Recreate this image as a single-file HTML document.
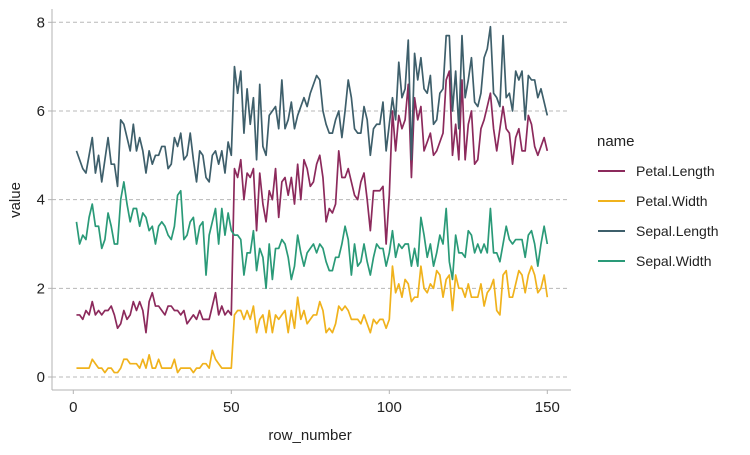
<!DOCTYPE html>
<html><head><meta charset="utf-8"><style>
body{margin:0;background:#fff;}
svg text{font-family:"Liberation Sans",Arial,sans-serif;}
</style></head><body>
<svg id="chart" width="750" height="450" xmlns="http://www.w3.org/2000/svg">
<g id="grid"></g>
<line x1="52" y1="9" x2="52" y2="390" stroke="#b3b3b3" stroke-width="1"/>
<line x1="52" y1="390" x2="571" y2="390" stroke="#b3b3b3" stroke-width="1"/>
<g id="ticks"></g>
<g id="lines"></g>
<text x="310" y="440" font-size="15" text-anchor="middle" fill="#222">row_number</text>
<text transform="translate(20,200) rotate(-90)" font-size="15" text-anchor="middle" fill="#222">value</text>
<g id="legend">
<text x="597" y="146" font-size="15" fill="#222">name</text>
</g>
</svg>
<script>
const rows = Array.from({length:150},(_,i)=>i+1);
const seriesNames = ["Petal.Length","Petal.Width","Sepal.Length","Sepal.Width"];
const seriesColors = ["#8c2a5c","#f0b21c","#3e5f6b","#2a9a78"];
const petalLength = [1.4,1.4,1.3,1.5,1.4,1.7,1.4,1.5,1.4,1.5,1.5,1.6,1.4,1.1,1.2,1.5,1.3,1.4,1.7,1.5,1.7,1.5,1.0,1.7,1.9,1.6,1.6,1.5,1.4,1.6,1.6,1.5,1.5,1.4,1.5,1.2,1.3,1.4,1.3,1.5,1.3,1.3,1.3,1.6,1.9,1.4,1.6,1.4,1.5,1.4,
4.7,4.5,4.9,4.0,4.6,4.5,4.7,3.3,4.6,3.9,3.5,4.2,4.0,4.7,3.6,4.4,4.5,4.1,4.5,3.9,4.8,4.0,4.9,4.7,4.3,4.4,4.8,5.0,4.5,3.5,3.8,3.7,3.9,5.1,4.5,4.5,4.7,4.4,4.1,4.0,4.4,4.6,4.0,3.3,4.2,4.2,4.2,4.3,3.0,4.1,
6.0,5.1,5.9,5.6,5.8,6.6,4.5,6.3,5.8,6.1,5.1,5.3,5.5,5.0,5.1,5.3,5.5,6.7,6.9,5.0,5.7,4.9,6.7,4.9,5.7,6.0,4.8,4.9,5.6,5.8,6.1,6.4,5.6,5.1,5.6,6.1,5.6,5.5,4.8,5.4,5.6,5.1,5.1,5.9,5.7,5.2,5.0,5.2,5.4,5.1];
const petalWidth = [0.2,0.2,0.2,0.2,0.2,0.4,0.3,0.2,0.2,0.1,0.2,0.2,0.1,0.1,0.2,0.4,0.4,0.3,0.3,0.3,0.2,0.4,0.2,0.5,0.2,0.2,0.4,0.2,0.2,0.2,0.2,0.4,0.1,0.2,0.2,0.2,0.2,0.1,0.2,0.2,0.3,0.3,0.2,0.6,0.4,0.3,0.2,0.2,0.2,0.2,
1.4,1.5,1.5,1.3,1.5,1.3,1.6,1.0,1.3,1.4,1.0,1.5,1.0,1.4,1.3,1.4,1.5,1.0,1.5,1.1,1.8,1.3,1.5,1.2,1.3,1.4,1.4,1.7,1.5,1.0,1.1,1.0,1.2,1.6,1.5,1.6,1.5,1.3,1.3,1.3,1.2,1.4,1.2,1.0,1.3,1.2,1.3,1.3,1.1,1.3,
2.5,1.9,2.1,1.8,2.2,2.1,1.7,1.8,1.8,2.5,2.0,1.9,2.1,2.0,2.4,2.3,1.8,2.2,2.3,1.5,2.3,2.0,2.0,1.8,2.1,1.8,1.8,1.8,2.1,1.6,1.9,2.0,2.2,1.5,1.4,2.3,2.4,1.8,1.8,2.1,2.4,2.3,1.9,2.3,2.5,2.3,1.9,2.0,2.3,1.8];
const sepalLength = [5.1,4.9,4.7,4.6,5.0,5.4,4.6,5.0,4.4,4.9,5.4,4.8,4.8,4.3,5.8,5.7,5.4,5.1,5.7,5.1,5.4,5.1,4.6,5.1,4.8,5.0,5.0,5.2,5.2,4.7,4.8,5.4,5.2,5.5,4.9,5.0,5.5,4.9,4.4,5.1,5.0,4.5,4.4,5.0,5.1,4.8,5.1,4.6,5.3,5.0,
7.0,6.4,6.9,5.5,6.5,5.7,6.3,4.9,6.6,5.2,5.0,5.9,6.0,6.1,5.6,6.7,5.6,5.8,6.2,5.6,5.9,6.1,6.3,6.1,6.4,6.6,6.8,6.7,6.0,5.7,5.5,5.5,5.8,6.0,5.4,6.0,6.7,6.3,5.6,5.5,5.5,6.1,5.8,5.0,5.6,5.7,5.7,6.2,5.1,5.7,
6.3,5.8,7.1,6.3,6.5,7.6,4.9,7.3,6.7,7.2,6.5,6.4,6.8,5.7,5.8,6.4,6.5,7.7,7.7,6.0,6.9,5.6,7.7,6.3,6.7,7.2,6.2,6.1,6.4,7.2,7.4,7.9,6.4,6.3,6.1,7.7,6.3,6.4,6.0,6.9,6.7,6.9,5.8,6.8,6.7,6.7,6.3,6.5,6.2,5.9];
const sepalWidth = [3.5,3.0,3.2,3.1,3.6,3.9,3.4,3.4,2.9,3.1,3.7,3.4,3.0,3.0,4.0,4.4,3.9,3.5,3.8,3.8,3.4,3.7,3.6,3.3,3.4,3.0,3.4,3.5,3.4,3.2,3.1,3.4,4.1,4.2,3.1,3.2,3.5,3.6,3.0,3.4,3.5,2.3,3.2,3.5,3.8,3.0,3.8,3.2,3.7,3.3,
3.2,3.2,3.1,2.3,2.8,2.8,3.3,2.4,2.9,2.7,2.0,3.0,2.2,2.9,2.9,3.1,3.0,2.7,2.2,2.5,3.2,2.8,2.5,2.8,2.9,3.0,2.8,3.0,2.9,2.6,2.4,2.4,2.7,2.7,3.0,3.4,3.1,2.3,3.0,2.5,2.6,3.0,2.6,2.3,2.7,3.0,2.9,2.9,2.5,2.8,
3.3,2.7,3.0,2.9,3.0,3.0,2.5,2.9,2.5,3.6,3.2,2.7,3.0,2.5,2.8,3.2,3.0,3.8,2.6,2.2,3.2,2.8,2.8,2.7,3.3,3.2,2.8,3.0,2.8,3.0,2.8,3.8,2.8,2.8,2.6,3.0,3.4,3.1,3.0,3.1,3.1,3.1,2.7,3.2,3.3,3.0,2.5,3.0,3.4,3.0];
const xTicks = [0,50,100,150];
const yTicks = [0,2,4,6,8];

const NS="http://www.w3.org/2000/svg";
const xs = v => 73.3 + v*(547.3-73.3)/150;
const ys = v => 377 - v*(377-22.3)/8;
function mk(tag, attrs, parent){const e=document.createElementNS(NS,tag);for(const k in attrs)e.setAttribute(k,attrs[k]);parent.appendChild(e);return e;}
const grid=document.getElementById('grid'), ticks=document.getElementById('ticks'), lines=document.getElementById('lines'), legend=document.getElementById('legend');
yTicks.forEach(t=>{
  const g=mk('line',{x1:52,x2:570,y1:ys(t),y2:ys(t),stroke:'#b8b8b8','stroke-dasharray':'4,3'},grid);
  
  
  const tk=mk('line',{x1:48,x2:52,y1:ys(t),y2:ys(t),stroke:'#b3b3b3'},ticks);
  
  
  const tx=mk('text',{x:45,y:ys(t)+5,'font-size':15,'text-anchor':'end',fill:'#222'},ticks);
  tx.textContent=t;
  
  
});
xTicks.forEach(t=>{
  const tk=mk('line',{x1:xs(t),x2:xs(t),y1:390,y2:394,stroke:'#b3b3b3'},ticks);
  
  
  const tx=mk('text',{x:xs(t),y:412,'font-size':15,'text-anchor':'middle',fill:'#222'},ticks);
  tx.textContent=t;
  
  
});
const allSeries=[petalLength,petalWidth,sepalLength,sepalWidth];
allSeries.forEach((s,i)=>{
  const d=s.map((v,j)=>(j?'L':'M')+xs(rows[j]).toFixed(2)+','+ys(v).toFixed(2)).join('');
  const p=mk('path',{d:d,fill:'none',stroke:seriesColors[i],'stroke-width':1.7,'stroke-linejoin':'round'},lines);
  
  
  const ly=171+i*30;
  const ll=mk('line',{x1:598,x2:625,y1:ly,y2:ly,stroke:seriesColors[i],'stroke-width':2},legend);
  
  
  const lt=mk('text',{x:636,y:ly+5,'font-size':14,fill:'#222'},legend);
  lt.textContent=seriesNames[i];
  
  
});
</script>
</body></html>
